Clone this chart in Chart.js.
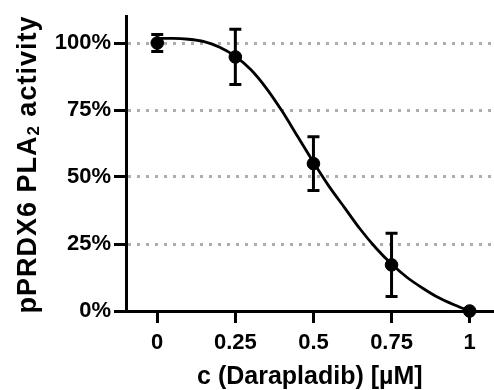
<!DOCTYPE html>
<html>
<head>
<meta charset="utf-8">
<script src="https://cdn.jsdelivr.net/npm/chart.js@4.4.1/dist/chart.umd.min.js"></script>
<style>
  html, body { margin: 0; padding: 0; background: #fff; overflow: hidden; }
  #wrap { width: 494px; height: 390px; overflow: hidden; }
</style>
</head>
<body>
<div id="wrap"><canvas id="c" width="501" height="390"></canvas></div>
<script>
const doses    = [0, 0.25, 0.5, 0.75, 1];
const activity = [100, 94.8, 55, 17.2, 0];
const errors   = [3.2, 10.3, 10, 11.8, 0];

// fitted curve, sampled from the figure
const curveX = [0, 0.05, 0.1, 0.15, 0.2, 0.25, 0.3, 0.35, 0.4, 0.45, 0.5,
                0.55, 0.6, 0.65, 0.7, 0.75, 0.8, 0.85, 0.9, 0.95, 1];
const curveY = [101.7, 101.7, 101.4, 100.5, 98.4, 95, 90, 83, 74.5, 65, 55.5,
                46.5, 38.5, 30.5, 23.5, 17.5, 12.5, 8.5, 5, 2.3, 0];

const xTicks = [0, 0.25, 0.5, 0.75, 1];
const xTickLabels = ['0', '0.25', '0.5', '0.75', '1'];
const yTicks = [0, 25, 50, 75, 100];
const yTickLabels = ['0%', '25%', '50%', '75%', '100%'];

const FONT = "'Liberation Sans', Arial, sans-serif";

// error bars with caps, drawn under the points
const errorBars = {
  id: 'errorBars',
  beforeDatasetsDraw(chart) {
    const { ctx, scales: { x, y } } = chart;
    ctx.save();
    ctx.strokeStyle = '#000';
    ctx.lineWidth = 3;
    doses.forEach((d, i) => {
      if (!errors[i]) return;
      const px = x.getPixelForValue(d);
      const top = y.getPixelForValue(activity[i] + errors[i]);
      const bot = y.getPixelForValue(activity[i] - errors[i]);
      ctx.beginPath();
      ctx.moveTo(px, top); ctx.lineTo(px, bot);
      ctx.moveTo(px - 6, top); ctx.lineTo(px + 6, top);
      ctx.moveTo(px - 6, bot); ctx.lineTo(px + 6, bot);
      ctx.stroke();
    });
    ctx.restore();
  }
};

// y title with a subscript "2"
const yTitle = {
  id: 'yTitle',
  afterDraw(chart) {
    const { ctx, chartArea } = chart;
    const parts = [
      { t: 'pPRDX6 PLA', size: 27, dy: 0 },
      { t: '2', size: 17, dy: 3 },
      { t: ' activity', size: 27, dy: 0 }
    ];
    ctx.save();
    ctx.fillStyle = '#000';
    ctx.textBaseline = 'alphabetic';
    ctx.letterSpacing = '1px';
    let total = 0;
    parts.forEach(p => {
      ctx.font = `bold ${p.size}px ${FONT}`;
      p.w = ctx.measureText(p.t).width;
      total += p.w;
    });
    const cy = (chartArea.top + chartArea.bottom) / 2 + 1;
    ctx.translate(36, cy);
    ctx.rotate(-Math.PI / 2);
    let cx = -total / 2;
    parts.forEach(p => {
      ctx.font = `bold ${p.size}px ${FONT}`;
      ctx.fillText(p.t, cx, p.dy);
      cx += p.w;
    });
    ctx.restore();
  }
};

new Chart(document.getElementById('c'), {
  data: {
    datasets: [
      {
        type: 'line',
        data: curveX.map((v, i) => ({ x: v, y: curveY[i] })),
        borderColor: '#000',
        borderWidth: 2.8,
        pointRadius: 0,
        cubicInterpolationMode: 'monotone',
        fill: false,
        clip: false
      },
      {
        type: 'scatter',
        data: doses.map((v, i) => ({ x: v, y: activity[i] })),
        backgroundColor: '#000',
        borderColor: '#000',
        pointRadius: 6.3,
        clip: false
      }
    ]
  },
  options: {
    responsive: false,
    animation: false,
    events: [],
    layout: { padding: { top: 16, right: 0, bottom: 0, left: 0 } },
    plugins: { legend: { display: false }, tooltip: { enabled: false } },
    scales: {
      x: {
        type: 'linear',
        min: -0.1,
        max: 1.077,
        afterBuildTicks: s => { s.ticks = xTicks.map(v => ({ value: v })); },
        afterFit: s => { s.height = 79; s.paddingLeft = 0; s.paddingRight = 0; },
        ticks: {
          color: '#000',
          padding: 7,
          font: { family: FONT, size: 22, weight: 'bold' },
          callback: (v) => xTickLabels[xTicks.indexOf(v)]
        },
        grid: {
          drawOnChartArea: false,
          drawTicks: true,
          tickLength: 12,
          tickWidth: 3,
          tickColor: '#000'
        },
        border: { color: '#000', width: 3 },
        title: {
          display: true,
          text: 'c (Darapladib) [µM]',
          color: '#000',
          padding: { top: 0, bottom: 0 },
          font: { family: FONT, size: 25, weight: 'bold', lineHeight: 1 }
        }
      },
      y: {
        type: 'linear',
        min: 0,
        max: 110,
        afterBuildTicks: s => { s.ticks = yTicks.map(v => ({ value: v })); },
        afterFit: s => { s.width = 126; },
        ticks: {
          color: '#000',
          padding: 3,
          font: { family: FONT, size: 22, weight: 'bold' },
          callback: (v) => yTickLabels[yTicks.indexOf(v)]
        },
        grid: {
          color: '#adadad',
          lineWidth: 3,
          drawTicks: true,
          tickLength: 12,
          tickWidth: 3,
          tickColor: '#000'
        },
        border: { color: '#000', width: 3, dash: [3, 6] }
      }
    }
  },
  plugins: [errorBars, yTitle]
});
</script>
</body>
</html>
